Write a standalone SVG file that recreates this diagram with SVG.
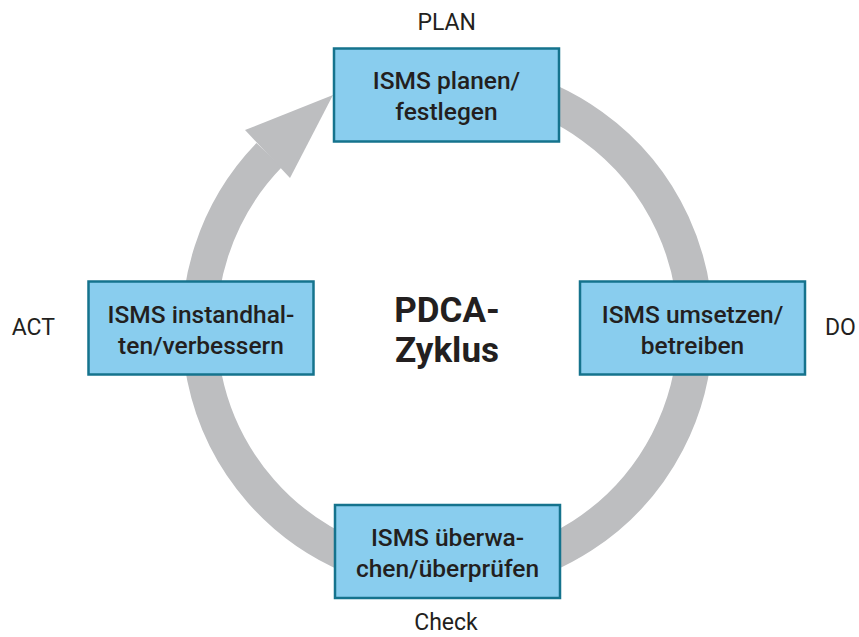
<svg xmlns="http://www.w3.org/2000/svg" width="859" height="637" viewBox="0 0 859 637">
<style>
.box{fill:#89CDEE;stroke:#15738D;stroke-width:2.5}
.bt{font-family:Roboto,"Liberation Sans",sans-serif;font-size:24.5px;font-weight:500;fill:#231F20;text-anchor:middle}
.lbl{font-family:Roboto,"Liberation Sans",sans-serif;font-size:23px;fill:#231F20}
.title{font-family:Roboto,"Liberation Sans",sans-serif;font-size:35px;font-weight:700;fill:#231F20;text-anchor:middle}
.ring{fill:none;stroke:#BDBEC0;stroke-width:35}
</style>
<rect width="859" height="637" fill="#FFFFFF"/>
<g id="connectors">
<path class="ring" d="M362.7,94.5 A248,248 0 1 1 269.1,155.2"/>
<polygon points="245,130 333,95 290,178" fill="#BDBEC0"/>
</g>
<g id="plan">
<rect class="box" x="334" y="48.5" width="225" height="93"/>
<text class="bt" x="446.5" y="89">ISMS planen/</text>
<text class="bt" x="446.5" y="120">festlegen</text>
</g>
<g id="do">
<rect class="box" x="580" y="281.5" width="225" height="93"/>
<text class="bt" x="692.5" y="322.5">ISMS umsetzen/</text>
<text class="bt" x="692.5" y="353.5">betreiben</text>
</g>
<g id="check">
<rect class="box" x="335" y="505" width="225" height="93"/>
<text class="bt" x="447.5" y="546">ISMS überwa-</text>
<text class="bt" x="447.5" y="577">chen/überprüfen</text>
</g>
<g id="act">
<rect class="box" x="88.5" y="281.5" width="225" height="93"/>
<text class="bt" x="201" y="322.5">ISMS instandhal-</text>
<text class="bt" x="201" y="353.5">ten/verbessern</text>
</g>
<g id="labels">
<text class="lbl" x="446.7" y="30" text-anchor="middle">PLAN</text>
<text class="lbl" x="11.7" y="335">ACT</text>
<text class="lbl" x="825" y="335">DO</text>
<text class="lbl" x="446" y="630" text-anchor="middle">Check</text>
</g>
<g id="center">
<text class="title" x="447" y="322">PDCA-</text>
<text class="title" x="447" y="362">Zyklus</text>
</g>
</svg>
